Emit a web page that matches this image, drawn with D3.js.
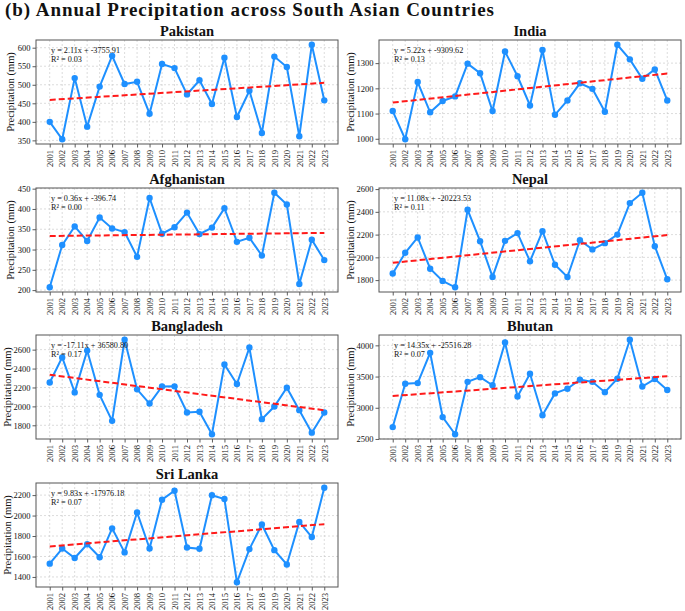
<!DOCTYPE html>
<html>
<head>
<meta charset="utf-8">
<script src="https://cdn.jsdelivr.net/npm/d3@7/dist/d3.min.js"></script>
<style>
  body { margin: 0; background: #fff; }
  text { font-family: "Liberation Serif", "Times New Roman", serif; fill: #111; }
</style>
</head>
<body>
<svg id="chart" width="685" height="611"></svg>
<script>
const years = [2001, 2002, 2003, 2004, 2005, 2006, 2007, 2008, 2009, 2010, 2011, 2012,
	2013, 2014, 2015, 2016, 2017, 2018, 2019, 2020, 2021, 2022, 2023]

const pakistan = [400, 353, 518, 387, 495, 578, 502, 508, 422, 556, 545, 474,
	512, 448, 573, 413, 484, 370, 576, 548, 361, 608, 458]
const india = [1110, 998, 1225, 1105, 1150, 1168, 1298, 1260, 1110, 1346, 1248, 1132,
	1352, 1095, 1152, 1220, 1198, 1107, 1373, 1315, 1238, 1275, 1152]
const afghanistan = [207, 311, 357, 321, 379, 352, 343, 282, 427, 339, 355, 391,
	338, 354, 402, 319, 329, 285, 440, 411, 215, 324, 274]
const nepal = [1858, 2040, 2175, 1900, 1793, 1737, 2418, 2142, 1828, 2145, 2213, 1965,
	2230, 1935, 1827, 2150, 2070, 2125, 2200, 2477, 2568, 2098, 1807]
const bangladesh = [2252, 2518, 2148, 2590, 2122, 1847, 2705, 2180, 2030, 2210, 2212, 1935,
	1943, 1705, 2443, 2237, 2622, 1865, 1998, 2198, 1960, 1722, 1935]
const bhutan = [2690, 3385, 3395, 3880, 2850, 2575, 3415, 3490, 3360, 4045, 3180, 3545,
	2880, 3230, 3305, 3450, 3415, 3250, 3465, 4090, 3340, 3460, 3285]
const sriLanka = [1530, 1678, 1585, 1720, 1592, 1875, 1640, 2030, 1678, 2155, 2242, 1688,
	1675, 2198, 2162, 1348, 1672, 1912, 1662, 1522, 1938, 1790, 2272]

const countries = ['Pakistan', 'India', 'Afghanistan', 'Nepal', 'Bangladesh', 'Bhutan', 'Sri Lanka']
const series = [pakistan, india, afghanistan, nepal, bangladesh, bhutan, sriLanka]
const yTicks = [
	[350, 400, 450, 500, 550, 600],
	[1000, 1100, 1200, 1300],
	[200, 250, 300, 350, 400, 450],
	[1800, 2000, 2200, 2400, 2600],
	[1800, 2000, 2200, 2400, 2600],
	[2500, 3000, 3500, 4000],
	[1400, 1600, 1800, 2000, 2200]
]
const equations = [
	'y = 2.11x + -3755.91', 'y = 5.22x + -9309.62', 'y = 0.36x + -396.74',
	'y = 11.08x + -20223.53', 'y = -17.11x + 36580.80', 'y = 14.35x + -25516.28',
	'y = 9.83x + -17976.18'
]
const rSquared = ['R² = 0.03', 'R² = 0.13', 'R² = 0.00', 'R² = 0.11', 'R² = 0.17', 'R² = 0.07', 'R² = 0.07']

const svg = d3.select('#chart')
const cols = [[36, 338], [379, 681]]
const rowTops = [40, 188, 335, 483]
const plotH = 104

svg.append('text')
	.attr('x', 5)
	.attr('y', 16)
	.attr('font-size', 19)
	.attr('font-weight', 'bold')
	.attr('textLength', 489)
	.attr('lengthAdjust', 'spacing')
	.text('(b) Annual Precipitation across South Asian Countries')

// matplotlib-style 5% padding around the data range
function padded (lo, hi) {
	const m = (hi - lo) * 0.05
	return [lo - m, hi + m]
}

function linearFit (xs, ys) {
	const mx = d3.mean(xs), my = d3.mean(ys)
	const slope = d3.sum(xs, (x, i) => (x - mx) * (ys[i] - my)) / d3.sum(xs, (x) => (x - mx) ** 2)
	return (x) => my + slope * (x - mx)
}

series.forEach((values, i) => {
	const [x0, x1] = cols[i % 2]
	const top = rowTops[Math.floor(i / 2)]
	const bottom = top + plotH

	const x = d3.scaleLinear().domain(padded(years[0], years[years.length - 1])).range([x0, x1])
	const y = d3.scaleLinear().domain(padded(d3.min(values), d3.max(values))).range([bottom, top])

	const g = svg.append('g')

	// grid
	g.selectAll('.vgrid').data(years).join('line')
		.attr('x1', (d) => x(d)).attr('x2', (d) => x(d))
		.attr('y1', top).attr('y2', bottom)
		.attr('stroke', '#c4c4c4').attr('stroke-width', 0.6).attr('stroke-dasharray', '2,2')
	g.selectAll('.hgrid').data(yTicks[i]).join('line')
		.attr('x1', x0).attr('x2', x1)
		.attr('y1', (d) => y(d)).attr('y2', (d) => y(d))
		.attr('stroke', '#c4c4c4').attr('stroke-width', 0.6).attr('stroke-dasharray', '2,2')

	// axes
	const yAxis = g.append('g').attr('transform', `translate(${x0},0)`)
		.call(d3.axisLeft(y).tickValues(yTicks[i]).tickSize(3.5).tickPadding(2).tickFormat(d3.format('d')))
	const xAxis = g.append('g').attr('transform', `translate(0,${bottom})`)
		.call(d3.axisBottom(x).tickValues(years).tickSize(3.5).tickFormat(d3.format('d')))
	;[yAxis, xAxis].forEach((a) => {
		a.select('.domain').remove()
		a.selectAll('.tick line').attr('stroke', '#333').attr('stroke-width', 0.8)
		a.selectAll('.tick text').attr('font-size', 8.5).attr('fill', '#111')
			.style('font-family', '"Liberation Serif", "Times New Roman", serif')
	})
	xAxis.selectAll('.tick text')
		.attr('transform', 'rotate(-90)')
		.attr('text-anchor', 'end')
		.attr('x', -6).attr('y', 0).attr('dy', '0.32em')

	// frame
	g.append('rect')
		.attr('x', x0).attr('y', top).attr('width', x1 - x0).attr('height', plotH)
		.attr('fill', 'none').attr('stroke', '#555').attr('stroke-width', 1)

	// series
	const line = d3.line().x((d, j) => x(years[j])).y((d) => y(d))
	g.append('path').datum(values)
		.attr('d', line)
		.attr('fill', 'none').attr('stroke', '#1e90ff').attr('stroke-width', 2)
	g.selectAll('.dot').data(values).join('circle')
		.attr('cx', (d, j) => x(years[j])).attr('cy', (d) => y(d)).attr('r', 3.2)
		.attr('fill', '#1e90ff')

	// trend
	const fit = linearFit(years, values)
	const ends = [years[0], years[years.length - 1]]
	g.append('path').datum(ends)
		.attr('d', d3.line().x((d) => x(d)).y((d) => y(fit(d))))
		.attr('fill', 'none').attr('stroke', '#ff1a1a').attr('stroke-width', 2)
		.attr('stroke-dasharray', '6,3')

	// texts
	const digits = String(d3.max(yTicks[i])).length
	const labelX = x0 - (digits * 3.5 + 15)
	g.append('text')
		.attr('x', (x0 + x1) / 2).attr('y', top - 4)
		.attr('text-anchor', 'middle').attr('font-size', 14.5).attr('font-weight', 'bold')
		.text(countries[i])
	g.append('text')
		.attr('x', labelX).attr('y', (top + bottom) / 2)
		.attr('transform', `rotate(-90,${labelX},${(top + bottom) / 2})`)
		.attr('text-anchor', 'middle').attr('dy', '0.35em').attr('font-size', 10.5)
		.text('Precipitation (mm)')
	g.append('text')
		.attr('x', x0 + 15).attr('y', top + 12.5)
		.attr('font-size', 8.2)
		.text(equations[i])
	g.append('text')
		.attr('x', x0 + 15).attr('y', top + 22)
		.attr('font-size', 8.2)
		.text(rSquared[i])
})
</script>
</body>
</html>
